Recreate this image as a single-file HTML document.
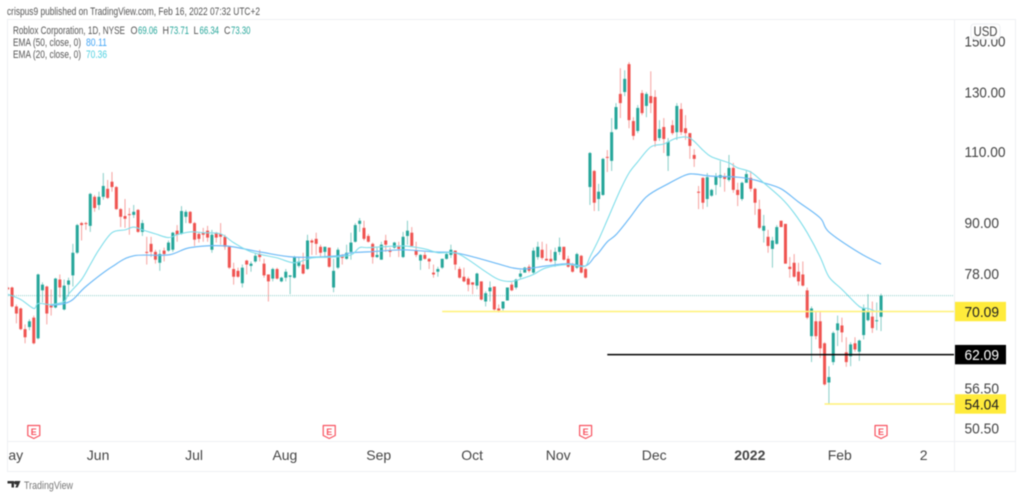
<!DOCTYPE html>
<html>
<head>
<meta charset="utf-8">
<title>Roblox Corporation chart</title>
<style>
html,body{margin:0;padding:0;background:#fff;width:1024px;height:497px;overflow:hidden}
svg{display:block;position:absolute;left:0;top:0;filter:blur(.4px)}
text{font-family:"Liberation Sans",sans-serif}
</style>
</head>
<body>
<svg id="chart" xmlns="http://www.w3.org/2000/svg" width="1024" height="497" viewBox="0 0 1024 497">
  <defs><clipPath id="plot-clip"><rect x="8" y="20" width="946" height="421"/></clipPath><clipPath id="axis-clip"><rect x="8" y="442" width="946" height="30"/></clipPath></defs>
  <text x="7" y="15" font-size="11" fill="#555" textLength="253" lengthAdjust="spacingAndGlyphs">crispus9 published on TradingView.com, Feb 16, 2022 07:32 UTC+2</text>
  <g fill="none" stroke="#eef0f3" stroke-width="1">
    <rect x="7.5" y="19.5" width="1008" height="452"/>
    <line x1="954.5" y1="19.5" x2="954.5" y2="471.5"/>
    <line x1="7.5" y1="441.5" x2="1015.5" y2="441.5"/>
  </g>
  <g id="candles" clip-path="url(#plot-clip)"></g>
  <g id="emas" clip-path="url(#plot-clip)"></g>
  <g id="levels"></g>
  <g id="price-axis"></g>
  <g id="time-axis" clip-path="url(#axis-clip)"></g>
  <g id="flags"></g>
  <g id="usd-tag">
    <rect x="971" y="24" width="29" height="15" rx="3" fill="#fff" fill-opacity=".92" stroke="#eef0f3"/>
    <text x="985.5" y="36" font-size="13.5" fill="#444" text-anchor="middle" textLength="24" lengthAdjust="spacingAndGlyphs">USD</text>
  </g>
  <g font-size="11" fill="#555">
    <text x="13" y="34" textLength="112" lengthAdjust="spacingAndGlyphs">Roblox Corporation, 1D, NYSE</text>
    <text x="130.5" y="34" textLength="7" lengthAdjust="spacingAndGlyphs">O</text>
    <text x="138" y="34" fill="#26a69a" textLength="19.5" lengthAdjust="spacingAndGlyphs">69.06</text>
    <text x="162.5" y="34" textLength="6.5" lengthAdjust="spacingAndGlyphs">H</text>
    <text x="169.5" y="34" fill="#26a69a" textLength="19.5" lengthAdjust="spacingAndGlyphs">73.71</text>
    <text x="193.5" y="34" textLength="5" lengthAdjust="spacingAndGlyphs">L</text>
    <text x="199.5" y="34" fill="#26a69a" textLength="19.5" lengthAdjust="spacingAndGlyphs">66.34</text>
    <text x="224" y="34" textLength="6.5" lengthAdjust="spacingAndGlyphs">C</text>
    <text x="231" y="34" fill="#26a69a" textLength="19.5" lengthAdjust="spacingAndGlyphs">73.30</text>
    <text x="13" y="46" textLength="68" lengthAdjust="spacingAndGlyphs">EMA (50, close, 0)</text>
    <text x="86" y="46" fill="#42a5f5" textLength="21" lengthAdjust="spacingAndGlyphs">80.11</text>
    <text x="13" y="58" textLength="68" lengthAdjust="spacingAndGlyphs">EMA (20, close, 0)</text>
    <text x="86" y="58" fill="#4dd0e1" textLength="21" lengthAdjust="spacingAndGlyphs">70.36</text>
  </g>
  <g>
    <path d="M7.5 481h6.5v6.5h-2.5v-4h-4zM15 481h5.5l-2.8 6.5h-2.4l1.4-3.3a1.2 1.2 0 0 1-1.7-3.2z" fill="#333"/>
    <text x="24" y="489" font-size="11" fill="#777" textLength="49" lengthAdjust="spacingAndGlyphs">TradingView</text>
  </g>
</svg>
<script>
var opens=[75.0,75.0,71.1,70.7,66.7,67.1,68.9,65.0,74.4,75.2,
71.3,70.9,76.7,70.5,75.6,77.6,82.7,89.9,89.9,89.2,
96.8,94.6,96.8,99.0,101.0,99.5,93.5,91.7,92.2,92.0,
93.3,87.7,82.9,84.8,82.9,80.4,83.2,83.2,83.4,88.0,
87.2,91.5,92.8,89.9,87.2,87.5,88.0,83.4,87.5,87.2,
86.5,84.1,79.0,78.6,75.9,80.9,79.7,80.7,82.4,80.2,
77.8,76.9,79.0,76.3,77.1,77.3,77.1,79.7,80.0,79.0,
85.6,86.0,84.1,82.9,83.9,75.0,79.3,82.0,81.3,82.9,
85.3,89.7,88.7,86.7,84.8,81.7,81.1,85.6,83.2,83.9,
84.1,81.7,86.7,87.5,83.2,80.9,82.2,81.3,78.2,78.4,
79.3,81.3,82.2,83.2,79.0,77.3,76.9,76.1,75.4,76.3,
72.1,74.2,75.2,70.7,70.7,72.3,75.6,75.0,77.3,78.2,
79.5,78.2,81.7,83.4,81.3,81.3,80.9,82.9,84.1,81.3,
80.0,79.3,82.0,79.0,99.5,104.1,96.2,97.3,108.3,107.1,
117.1,129.3,130.0,140.6,119.8,116.5,129.6,125.0,128.5,128.2,
114.2,117.8,108.6,118.4,116.1,123.9,117.4,115.8,108.9,98.2,
102.1,96.2,97.1,100.1,102.1,102.6,101.5,105.0,98.7,96.2,
100.7,102.1,99.0,93.5,88.0,86.5,83.6,84.8,90.5,89.7,
79.5,80.4,78.4,77.8,74.4,65.4,68.2,68.2,64.1,57.4,
60.8,66.5,67.4,62.5,61.8,64.1,62.6,65.6,68.4,69.1,68.2,69.06];
var highs=[75.2,75.2,71.5,70.9,67.6,68.6,69.3,78.0,76.1,75.4,
74.6,77.1,77.8,76.7,77.1,84.8,89.7,90.2,90.2,97.9,
97.3,98.2,103.5,101.5,103.8,99.8,93.8,96.2,93.8,94.6,
93.5,90.7,86.5,86.5,83.4,83.4,83.9,85.6,87.7,89.4,
94.3,93.3,93.0,90.2,87.7,88.7,89.2,88.2,87.7,89.9,
87.0,84.3,80.4,79.3,80.0,81.1,80.7,82.7,83.4,81.3,
77.8,79.3,79.3,77.3,79.0,77.6,82.0,81.7,82.7,87.0,
86.0,87.5,84.6,84.1,83.9,81.3,83.9,82.4,84.6,87.5,
89.9,91.2,90.5,87.2,85.1,83.9,85.3,87.0,83.9,85.3,
85.3,87.7,90.5,88.9,85.3,82.4,82.9,81.5,80.0,79.5,
81.3,82.9,84.6,83.2,79.5,79.3,77.3,76.1,78.2,76.3,
74.2,76.3,75.2,71.5,72.1,75.0,76.1,76.9,78.8,79.5,
80.0,83.9,85.3,85.3,84.8,83.4,83.9,86.3,84.1,82.0,
80.4,82.7,82.2,79.3,109.8,104.4,100.4,108.0,110.4,120.8,
126.0,139.0,138.2,141.4,121.1,125.3,130.7,130.0,137.8,130.7,
120.1,120.8,114.2,120.1,126.0,126.0,121.8,115.8,110.7,99.8,
102.3,103.5,99.0,103.5,107.1,103.5,108.9,106.5,100.7,101.0,
104.4,104.1,99.3,96.0,92.0,88.2,86.5,89.4,90.5,89.7,
81.7,82.4,80.4,80.7,75.0,71.1,70.1,70.1,64.3,60.1,
66.3,69.3,68.9,65.2,64.3,65.2,64.8,71.5,73.6,72.1,71.9,73.71];
var lows=[74.4,70.9,67.8,66.5,64.1,66.5,63.9,64.8,71.9,67.6,
69.3,70.7,72.9,70.3,73.1,75.2,82.4,85.6,88.2,87.7,
92.8,93.3,96.0,96.2,98.2,93.3,88.9,88.7,87.0,91.2,
87.5,86.7,80.0,81.7,80.2,78.6,80.7,82.9,82.9,85.3,
87.0,89.9,89.7,84.3,85.1,85.3,85.3,82.7,85.1,84.6,
83.4,79.0,75.6,77.1,75.0,77.8,78.4,80.4,80.7,77.1,
72.1,76.3,76.7,76.1,76.3,73.6,76.9,79.3,77.8,78.8,
82.2,82.2,81.5,81.5,79.3,74.0,79.0,80.0,81.1,81.1,
85.1,87.7,85.6,85.1,80.2,81.5,81.1,82.9,81.7,83.6,
81.7,81.5,84.6,84.3,81.7,78.8,81.1,79.0,77.1,77.3,
79.0,81.1,81.5,78.8,76.9,76.1,74.2,73.6,74.6,72.3,
71.1,72.1,70.3,69.9,70.3,72.3,74.2,74.6,76.7,78.2,
78.2,77.8,81.1,81.1,80.9,80.4,79.5,82.2,80.9,79.3,
78.2,79.0,78.0,76.9,94.6,93.0,93.0,97.1,103.8,104.1,
116.8,120.8,128.5,117.4,113.6,115.8,121.8,121.1,122.5,111.4,
113.3,109.5,104.1,115.2,113.6,115.2,113.6,107.7,105.3,93.5,
93.5,94.1,96.8,97.3,99.5,98.2,101.0,97.9,94.3,95.7,
100.7,98.2,92.0,88.4,85.1,82.7,79.3,84.6,88.9,80.2,
77.1,77.1,75.4,75.2,68.6,60.8,64.8,61.5,56.9,54.04,
60.3,63.6,64.3,60.0,60.1,62.6,61.0,64.8,68.2,66.0,66.5,66.34];
var closes=[74.6,71.1,69.7,66.7,65.2,68.2,64.1,77.8,75.6,69.7,
70.9,76.9,75.0,75.4,76.5,82.7,89.4,89.4,89.7,97.6,
93.8,96.8,99.8,96.5,99.5,93.5,91.5,91.0,92.0,92.8,
87.7,89.9,82.7,82.9,81.1,82.4,82.4,85.1,87.5,87.0,
93.0,92.8,89.9,85.8,86.0,87.0,86.3,87.0,86.3,86.5,
84.1,79.3,77.3,77.3,79.3,80.0,80.2,82.0,81.7,77.6,
76.3,79.0,76.9,77.1,78.4,77.6,81.7,80.7,78.0,85.6,
85.1,84.8,82.7,84.1,79.5,78.6,83.4,81.5,82.7,85.1,
89.4,90.5,86.0,85.3,81.7,82.2,84.6,84.6,82.9,85.1,
83.6,86.5,88.0,84.3,82.2,82.2,81.3,80.7,77.8,79.0,
81.3,82.4,83.4,80.0,77.1,76.3,75.6,75.6,78.0,72.5,
73.8,75.0,70.5,70.3,72.1,75.0,74.4,76.7,78.0,79.3,
78.6,83.2,84.1,81.5,80.9,80.7,82.9,84.1,81.1,79.5,
78.4,82.4,78.2,77.1,109.5,95.2,98.2,107.7,108.0,116.1,
124.6,126.0,134.9,120.1,114.9,124.3,122.5,129.3,126.0,113.3,
117.1,113.9,113.0,115.8,125.0,116.1,115.8,111.7,107.7,97.9,
95.2,102.3,98.7,102.6,102.9,101.8,105.0,98.7,97.3,100.7,
103.2,99.0,95.2,88.7,89.2,84.3,85.6,88.9,88.9,80.2,
79.0,77.3,76.3,75.4,68.9,70.7,65.4,63.2,57.1,58.3,
66.0,67.8,66.1,60.8,63.9,63.0,64.6,70.7,70.1,66.9,68.4,73.30];
var ema20Bars=[0,3,6,7,10,13,14,17,19,21,24,27,29,31,34,37,39,42,45,49,52,56,62,66,70,75,79,81,83,91,96,99,103,106,110,113,116,119,121,124,129,131,133,134,136,138,141,143,145,148,151,154,157,160,162,166,168,171,174,178,181,184,187,189,192,196,198,200,201];
var ema20Values=[73.6,72.5,70.7,71.7,71.5,72.1,73.6,76.7,80.0,83.4,87.5,88.2,88.9,88.2,87.2,86.3,87.0,87.7,87.5,87.2,85.1,82.9,81.5,80.4,81.5,81.7,82.2,83.9,83.9,84.3,83.6,82.7,82.7,81.1,78.4,76.7,76.3,77.1,77.8,79.3,80.0,79.7,79.7,81.7,85.8,90.7,98.7,103.5,106.8,111.4,112.3,114.2,114.2,110.4,108.3,106.5,105.0,103.8,100.7,96.5,92.5,87.5,81.7,77.3,74.6,71.1,70.7,70.1,70.36];
var ema50Bars=[10,13,15,18,24,29,37,42,50,58,66,76,79,83,91,98,103,108,112,116,119,124,129,133,135,136,138,140,143,147,152,156,158,162,168,172,174,178,182,187,189,196,201];
var ema50Values=[71.3,71.7,72.5,75.2,79.5,82.0,82.2,83.9,84.3,82.9,81.7,82.0,82.7,82.9,83.4,82.9,82.7,81.5,80.4,79.3,79.0,79.7,80.2,79.7,81.7,82.7,85.3,87.0,91.0,96.8,100.4,102.9,103.2,102.6,102.3,101.5,100.7,99.0,95.4,91.2,87.7,82.7,80.11];
var priceTicks=[150,130,110,90,78,56.5,50.5];
var timeLabels=["May","Jun","Jul","Aug","Sep","Oct","Nov","Dec","2022","Feb","2"];
var timeBars=[0.5,20.8,42.9,63.8,85.4,106.9,126.7,148.8,170.8,191.5,210.8];
var earningsBars=[6,74,133,201];
var levelPrices=[70.09,62.09,54.04];
var levelStartBars=[100,138,188];

var NS="http://www.w3.org/2000/svg";
function xBar(i){return 7.7+4.345*i;}
function yPrice(p){return 92+355.4*Math.log(130/p);}
function mk(tag,attrs,parent){
  var el=document.createElementNS(NS,tag);
  for(var k in attrs){el.setAttribute(k,attrs[k]);}
  parent.appendChild(el);
  return el;
}
var candlesG=document.getElementById('candles');
for(var i=0;i<opens.length;i++){
  var up=closes[i]>=opens[i];
  var col=up?'#26a69a':'#ef5350';
  var cx=xBar(i);
  var g=mk('g',{},candlesG);
  
  
  var wick=mk('line',{x1:cx,x2:cx,y1:yPrice(highs[i]),y2:yPrice(lows[i]),stroke:col,'stroke-width':1,'stroke-opacity':.55},g);
  
  
  var bodyTop=yPrice(Math.max(opens[i],closes[i]));
  var bodyBot=yPrice(Math.min(opens[i],closes[i]));
  var body=mk('rect',{x:cx-1.5,y:bodyTop,width:3,height:Math.max(1,bodyBot-bodyTop),fill:col},g);
  
  
}
function linePath(bars,vals){
  var pts=[];
  for(var j=0;j<bars.length;j++){pts.push([xBar(bars[j]),yPrice(vals[j])]);}
  var d='M'+pts[0][0].toFixed(1)+' '+pts[0][1].toFixed(1);
  for(var n=0;n<pts.length-1;n++){
    var p0=pts[Math.max(0,n-1)],p1=pts[n],p2=pts[n+1],p3=pts[Math.min(pts.length-1,n+2)];
    var c1x=p1[0]+(p2[0]-p0[0])/6,c1y=p1[1]+(p2[1]-p0[1])/6;
    var c2x=p2[0]-(p3[0]-p1[0])/6,c2y=p2[1]-(p3[1]-p1[1])/6;
    d+='C'+c1x.toFixed(1)+' '+c1y.toFixed(1)+' '+c2x.toFixed(1)+' '+c2y.toFixed(1)+' '+p2[0].toFixed(1)+' '+p2[1].toFixed(1);
  }
  return d;
}
var emasG=document.getElementById('emas');
var e50=mk('path',{d:linePath(ema50Bars,ema50Values),fill:'none',stroke:'#6fbbf7','stroke-width':1.2,'stroke-linejoin':'round'},emasG);


var e20=mk('path',{d:linePath(ema20Bars,ema20Values),fill:'none',stroke:'#80deea','stroke-width':1.1,'stroke-linejoin':'round'},emasG);



var levelsG=document.getElementById('levels');
var lastClose=closes[closes.length-1];
var lastLine=mk('line',{x1:8,x2:954,y1:yPrice(lastClose),y2:yPrice(lastClose),stroke:'#26a69a','stroke-width':1,'stroke-dasharray':'1 1','stroke-opacity':.5},levelsG);


var levelColors=['#fff176','#000000','#fff176'];
var boxColors=['#ffeb3b','#000000','#ffeb3b'];
var textColors=['#222222','#ffffff','#222222'];
var paxis=document.getElementById('price-axis');
for(var t=0;t<priceTicks.length;t++){
  var tk=mk('text',{x:964.5,y:yPrice(priceTicks[t])+5.5,'font-size':15,fill:'#444',textLength:priceTicks[t]>=100?41:34.5,lengthAdjust:'spacingAndGlyphs'},paxis);
  
  
  tk.textContent=priceTicks[t].toFixed(2);
}
for(var m=0;m<levelPrices.length;m++){
  var ly=yPrice(levelPrices[m]);
  var ln=mk('line',{x1:xBar(levelStartBars[m]),x2:954,y1:ly,y2:ly,stroke:levelColors[m],'stroke-width':m==1?1.6:1.5},levelsG);
  
  
  var box=mk('rect',{x:955,y:ly-9.7,width:51,height:19.4,fill:boxColors[m]},levelsG);
  
  
  var lt=mk('text',{x:964.5,y:ly+5.5,'font-size':15,fill:textColors[m],textLength:34.5,lengthAdjust:'spacingAndGlyphs'},levelsG);
  
  
  lt.textContent=levelPrices[m].toFixed(2);
}
var chartSvg=document.getElementById('chart');
chartSvg.appendChild(paxis);
chartSvg.appendChild(levelsG);
chartSvg.appendChild(document.getElementById('usd-tag'));
var taxis=document.getElementById('time-axis');
for(var a=0;a<timeLabels.length;a++){
  var bold=timeLabels[a]==='2022';
  var tl=mk('text',{x:xBar(timeBars[a]),y:460,'text-anchor':'middle','font-size':14,fill:'#444','font-weight':bold?'bold':'normal'},taxis);
  
  
  tl.textContent=timeLabels[a];
}
var flagsG=document.getElementById('flags');
for(var f=0;f<earningsBars.length;f++){
  var fx=xBar(earningsBars[f]);
  var fg=mk('g',{},flagsG);
  
  
  mk('path',{d:'M'+(fx-6)+' 425.5h12v10l-6 3l-6-3z',fill:'#fff',stroke:'#f7525f','stroke-width':1.2,'stroke-linejoin':'round'},fg);
  var ft=mk('text',{x:fx,y:435,'text-anchor':'middle','font-size':9,'font-weight':'bold',fill:'#f7525f'},fg);
  
  
  ft.textContent='E';
}
</script>
</body>
</html>
